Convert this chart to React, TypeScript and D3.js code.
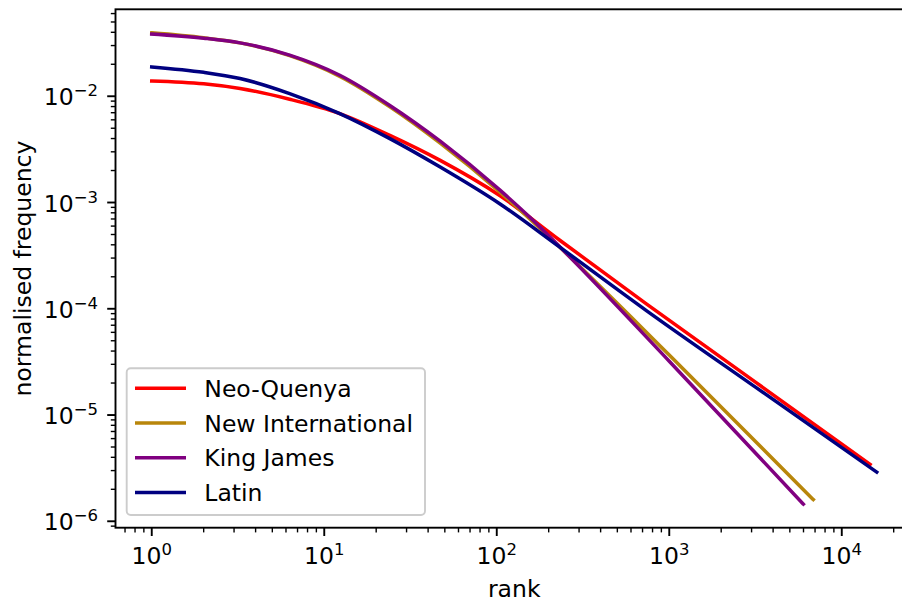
import React from "react";
import * as d3 from "d3";

const seriesNames = ["Neo-Quenya", "New International", "King James", "Latin"];
const seriesColors = ["#ff0000", "#b8860b", "#800080", "#000080"];

const quenyaRank = [1, 2, 3.25, 6.3, 12.3, 24, 47, 104, 233, 740, 3160, 14600];
const quenyaFreq = [0.01393, 0.0131, 0.01183, 0.00937, 0.00687, 0.00428, 0.00249, 0.001164, 0.000439, 0.0001107, 0.0000204, 0.00000343];

const niRank = [1, 2, 3.25, 6.3, 12.3, 24, 47, 104, 156, 238, 1000, 6840];
const niFreq = [0.0395, 0.0355, 0.0318, 0.0241, 0.0154, 0.00796, 0.00362, 0.00126, 0.000697, 0.000365, 0.0000367, 0.0000016];

const kjRank = [1, 2, 3.25, 6.3, 12.3, 24, 47, 104, 156, 238, 1000, 5990];
const kjFreq = [0.0385, 0.0352, 0.0318, 0.0244, 0.01578, 0.0082, 0.00378, 0.001315, 0.000723, 0.000367, 0.0000321, 0.00000145];

const latinRank = [1, 2, 3.25, 6.3, 12.3, 24, 47, 104, 233, 740, 3160, 15950];
const latinFreq = [0.01889, 0.0168, 0.01469, 0.0106, 0.00687, 0.00399, 0.002155, 0.000973, 0.000378, 0.0000957, 0.0000183, 0.0000029];

const xTickExps = [0, 1, 2, 3, 4];
const yTickExps = [-6, -5, -4, -3, -2];

const allRanks = [quenyaRank, niRank, kjRank, latinRank];
const allFreqs = [quenyaFreq, niFreq, kjFreq, latinFreq];

const W = 902;
const H = 602;
const L = 115.5;
const T = 9.3;
const R = 913;
const B = 527.7;
const FS = 23.5;
const SUP = 16.5;
const FONT = "DejaVu Sans, sans-serif";

function logExtent(arrs: number[][]) {
  const flat = arrs.flat();
  const lo = Math.log10(d3.min(flat) as number);
  const hi = Math.log10(d3.max(flat) as number);
  const m = (hi - lo) * 0.05;
  return [Math.pow(10, lo - m), Math.pow(10, hi + m)];
}

export default function App() {
  const x = d3.scaleLog().domain(logExtent(allRanks)).range([L, R]);
  const y = d3.scaleLog().domain(logExtent(allFreqs)).range([B, T]);

  const line = d3
    .line<[number, number]>()
    .x((d) => x(d[0]))
    .y((d) => y(d[1]))
    .curve(d3.curveMonotoneX);

  const [x0, x1] = x.domain();
  const [y0, y1] = y.domain();
  const xMinor: number[] = [];
  for (let e = -1; e <= 5; e++) for (let k = 2; k <= 9; k++) {
    const v = k * Math.pow(10, e);
    if (v >= x0 && v <= x1) xMinor.push(v);
  }
  const yMinor: number[] = [];
  for (let e = -7; e <= 0; e++) for (let k = 2; k <= 9; k++) {
    const v = k * Math.pow(10, e);
    if (v >= y0 && v <= y1) yMinor.push(v);
  }

  const legendX = 126.7;
  const legendY = 368.3;
  const legendW = 298.3;
  const legendH = 146.7;
  const rowY = [388.3, 423.0, 457.7, 492.4];

  return (
    <svg
      width={W}
      height={H}
      style={{ position: "absolute", left: 0, top: 0, background: "#fff" }}
      fontFamily={FONT}
    >
      <rect x={0} y={0} width={W} height={H} fill="#fff" />
      <defs>
        <clipPath id="plotclip">
          <rect x={L} y={T} width={R - L} height={B - T} />
        </clipPath>
      </defs>
      <g clipPath="url(#plotclip)">
        {allRanks.map((ranks, i) => (
          <path
            key={seriesNames[i]}
            d={line(ranks.map((r, j) => [r, allFreqs[i][j]] as [number, number])) || ""}
            fill="none"
            stroke={seriesColors[i]}
            strokeWidth={3.5}
            strokeLinecap="square"
          />
        ))}
      </g>
      {/* spines */}
      <rect x={L} y={T} width={R - L} height={B - T} fill="none" stroke="#000" strokeWidth={1.9} />
      {/* x ticks */}
      {xMinor.map((v) => (
        <line key={"xm" + v} x1={x(v)} x2={x(v)} y1={B} y2={B + 4.7} stroke="#000" strokeWidth={1.4} />
      ))}
      {xTickExps.map((e) => (
        <g key={"xt" + e}>
          <line x1={x(Math.pow(10, e))} x2={x(Math.pow(10, e))} y1={B} y2={B + 8.3} stroke="#000" strokeWidth={1.9} />
          <text x={x(Math.pow(10, e))} y={563.5} textAnchor="middle" fontSize={FS} fill="#000">
            <tspan>10</tspan>
            <tspan dy={-9} fontSize={SUP}>{String(e)}</tspan>
          </text>
        </g>
      ))}
      {/* y ticks */}
      {yMinor.map((v) => (
        <line key={"ym" + v} x1={L} x2={L - 4.7} y1={y(v)} y2={y(v)} stroke="#000" strokeWidth={1.4} />
      ))}
      {yTickExps.map((e) => (
        <g key={"yt" + e}>
          <line x1={L} x2={L - 8.3} y1={y(Math.pow(10, e))} y2={y(Math.pow(10, e))} stroke="#000" strokeWidth={1.9} />
          <text x={98} y={y(Math.pow(10, e)) + 9} textAnchor="end" fontSize={FS} fill="#000">
            <tspan>10</tspan>
            <tspan dy={-9} fontSize={SUP}>{"\u2212" + String(-e)}</tspan>
          </text>
        </g>
      ))}
      {/* axis labels */}
      <text x={(L + R) / 2} y={597} textAnchor="middle" fontSize={FS} fill="#000">
        rank
      </text>
      <text
        transform={`translate(31,${(T + B) / 2}) rotate(-90)`}
        textAnchor="middle"
        fontSize={FS}
        fill="#000"
      >
        normalised frequency
      </text>
      {/* legend */}
      <rect
        x={legendX}
        y={legendY}
        width={legendW}
        height={legendH}
        rx={4}
        ry={4}
        fill="#fff"
        fillOpacity={0.8}
        stroke="#cccccc"
        strokeWidth={1.9}
      />
      {seriesNames.map((name, i) => (
        <g key={"lg" + name}>
          <line x1={135} x2={186} y1={rowY[i]} y2={rowY[i]} stroke={seriesColors[i]} strokeWidth={3.5} />
          <text x={204.3} y={rowY[i] + 8.5} fontSize={FS} fill="#000">
            {name}
          </text>
        </g>
      ))}
    </svg>
  );
}
